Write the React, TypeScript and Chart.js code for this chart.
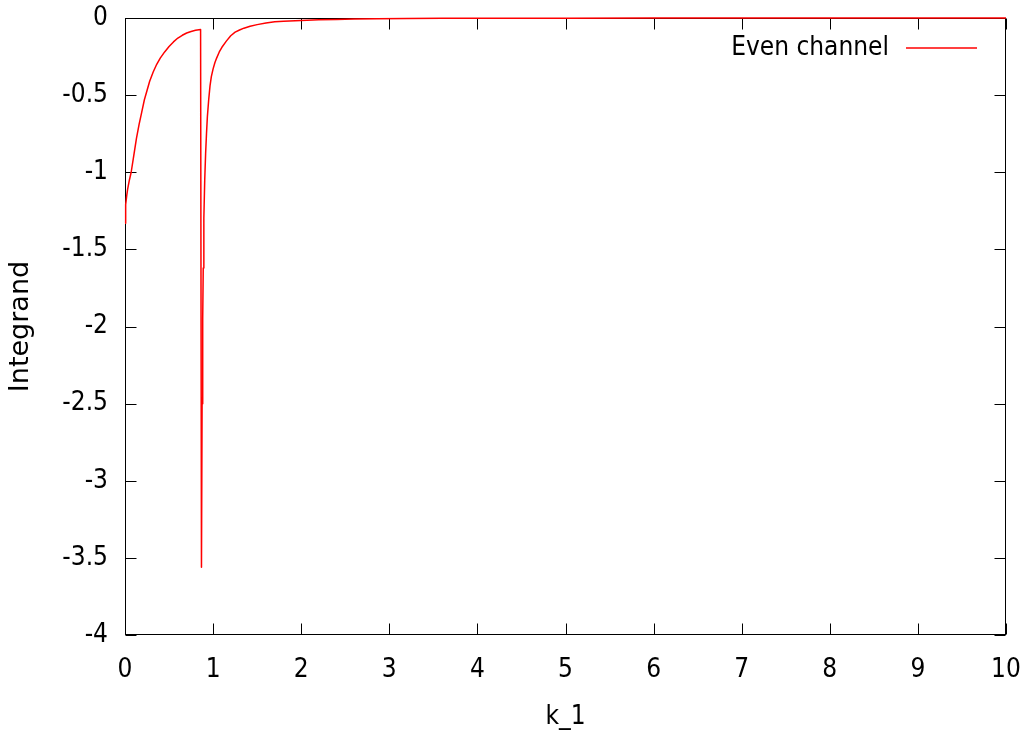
import React, { useEffect, useRef } from "react";
import { Chart, registerables } from "chart.js";

Chart.register(...registerables);

// k_1 sample positions and integrand values
const kValues: number[] = [
  0, 0.005, 0.01, 0.02, 0.03, 0.05, 0.07, 0.1, 0.13, 0.16, 0.19, 0.22, 0.25, 0.28,
  0.32, 0.36, 0.4, 0.45, 0.5, 0.55, 0.6, 0.65, 0.7, 0.75, 0.8, 0.84, 0.858,
  0.868,
  0.875, 0.882, 0.888, 0.895, 0.905, 0.915, 0.925, 0.935, 0.95, 0.965, 0.98, 1.0, 1.02,
  1.04, 1.07, 1.1, 1.15, 1.2, 1.25, 1.3, 1.35, 1.42, 1.5, 1.6, 1.7, 1.8, 2.0, 2.2,
  2.4, 2.6, 2.86, 3.2, 3.6, 4, 5, 6, 7, 8, 9, 10,
];
const integrand: number[] = [
  -1.33, -1.26, -1.21, -1.15, -1.11, -1.05, -1.0, -0.89, -0.78, -0.69, -0.61, -0.53,
  -0.47, -0.41, -0.35, -0.3, -0.26, -0.22, -0.185, -0.155, -0.13, -0.112, -0.097,
  -0.087, -0.08, -0.076, -0.075,
  -3.56,
  -2.5, -1.95, -1.62, -1.3, -1.05, -0.88, -0.75, -0.64, -0.53, -0.44, -0.38, -0.33,
  -0.29, -0.26, -0.22, -0.19, -0.15, -0.115, -0.092, -0.078, -0.066, -0.053, -0.043,
  -0.032, -0.025, -0.021, -0.016, -0.012, -0.009, -0.007, -0.005, -0.003, -0.002,
  -0.0015, -0.001, -0.0005, -0.0003, -0.0002, -0.0001, -0.0001,
];

const seriesLabel = "Even channel";
const xTitle = "k_1";
const yTitle = "Integrand";
const xMin = 0, xMax = 10, xStep = 1;
const yMin = -4, yMax = 0, yStep = 0.5;

const FONT = "'DejaVu Sans Condensed', 'DejaVu Sans', sans-serif";
const FSIZE = 26;

const framePlugin = {
  id: "gnuFrame",
  beforeDatasetsDraw(chart: any) {
    const { ctx, chartArea: a, scales } = chart;
    ctx.save();
    ctx.strokeStyle = "#000";
    ctx.lineWidth = 1;
    const L = Math.round(a.left) + 0.5;
    const R = Math.round(a.right) - 0.5;
    const T = Math.round(a.top) + 0.5;
    const B = Math.round(a.bottom) - 0.5;
    ctx.strokeRect(L, T, R - L, B - T);
    const tl = 11;
    ctx.beginPath();
    for (const t of scales.x.ticks) {
      const px = Math.round(scales.x.getPixelForValue(t.value)) + 0.5;
      ctx.moveTo(px, B); ctx.lineTo(px, B - tl);
      ctx.moveTo(px, T); ctx.lineTo(px, T + tl);
    }
    for (const t of scales.y.ticks) {
      const py = Math.round(scales.y.getPixelForValue(t.value)) + 0.5;
      ctx.moveTo(L, py); ctx.lineTo(L + tl, py);
      ctx.moveTo(R, py); ctx.lineTo(R - tl, py);
    }
    ctx.stroke();
    ctx.restore();
  },
  afterDraw(chart: any) {
    const { ctx, chartArea: a } = chart;
    const ds = chart.data.datasets[0];
    ctx.save();
    const y = a.top + 30;
    const lineEnd = a.right - 29;
    const lineStart = lineEnd - 71;
    ctx.strokeStyle = ds.borderColor;
    ctx.lineWidth = 1.5;
    ctx.beginPath();
    ctx.moveTo(lineStart, y);
    ctx.lineTo(lineEnd, y);
    ctx.stroke();
    ctx.fillStyle = "#000";
    ctx.font = `${FSIZE}px ${FONT}`;
    ctx.textAlign = "right";
    ctx.textBaseline = "middle";
    ctx.fillText(ds.label, lineStart - 17, y);
    ctx.restore();
  },
};

export default function App() {
  const ref = useRef<HTMLCanvasElement | null>(null);
  useEffect(() => {
    if (!ref.current) return;
    const chart = new Chart(ref.current, {
      type: "scatter",
      data: {
        datasets: [
          {
            label: seriesLabel,
            data: kValues.map((k, i) => ({ x: k, y: integrand[i] })),
            showLine: true,
            borderColor: "rgb(255,0,0)",
            backgroundColor: "rgb(255,0,0)",
            borderWidth: 1.5,
            borderJoinStyle: "round",
            pointRadius: 0,
            tension: 0,
            clip: 2,
          } as any,
        ],
      },
      options: {
        animation: false,
        responsive: false,
        layout: { padding: { top: 18, right: 27, left: 0, bottom: 0 } },
        plugins: { legend: { display: false }, tooltip: { enabled: false } },
        scales: {
          x: {
            type: "linear",
            min: xMin,
            max: xMax,
            grid: { display: false, drawTicks: false },
            border: { display: false },
            ticks: {
              stepSize: xStep,
              color: "#000",
              font: { family: FONT, size: FSIZE },
              padding: 20,
              maxRotation: 0,
            },
            title: {
              display: true,
              text: xTitle,
              color: "#000",
              font: { family: FONT, size: FSIZE },
              padding: { top: 0, bottom: 5 },
            },
            afterFit: (s: any) => {
              s.height = 103;
              s.paddingLeft = 0;
              s.paddingRight = 0;
            },
          },
          y: {
            type: "linear",
            min: yMin,
            max: yMax,
            grid: { display: false, drawTicks: false },
            border: { display: false },
            ticks: {
              stepSize: yStep,
              color: "#000",
              font: { family: FONT, size: FSIZE },
              padding: 17,
              callback: (v: any) => String(Number(v)),
            },
            title: {
              display: true,
              text: yTitle,
              color: "#000",
              font: { family: "'DejaVu Sans', sans-serif", size: 27 },
              padding: { top: 5, bottom: 0 },
            },
            afterFit: (s: any) => {
              s.width = 125;
              s.paddingTop = 0;
              s.paddingBottom = 0;
            },
          },
        },
      },
      plugins: [framePlugin],
    });
    return () => chart.destroy();
  }, []);
  return (
    <div style={{ position: "fixed", left: 0, top: 0, width: 1033, height: 738, background: "#fff" }}>
      <canvas ref={ref} width={1033} height={738} style={{ display: "block" }} />
    </div>
  );
}
